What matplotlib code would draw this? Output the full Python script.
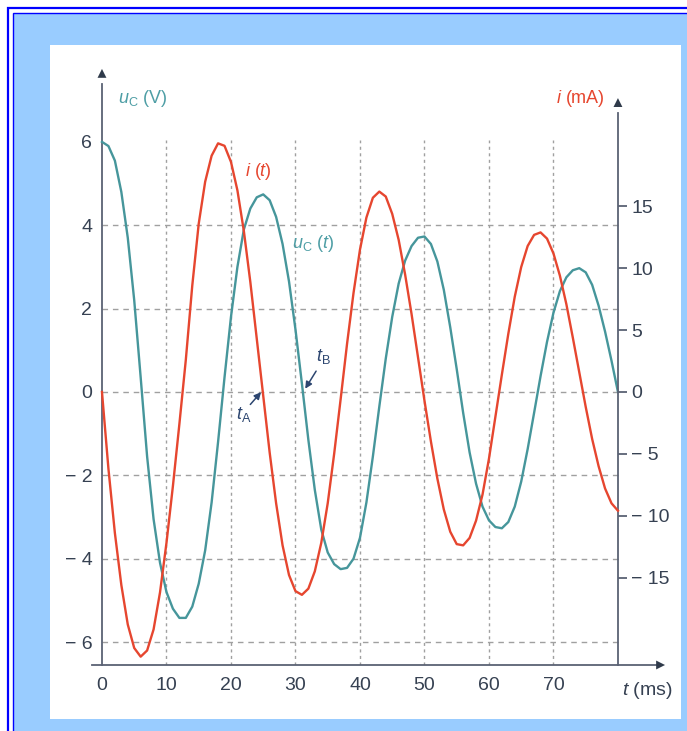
import matplotlib
matplotlib.use("Agg")
import matplotlib.pyplot as plt
from matplotlib.patches import Rectangle

plt.rcParams['font.family'] = ['Liberation Sans', 'DejaVu Sans']
plt.rcParams['mathtext.fontset'] = 'custom'
plt.rcParams['mathtext.rm'] = 'Liberation Sans'
plt.rcParams['mathtext.it'] = 'Liberation Sans:italic'

# t en ms, u_C en V, i en mA
t_ms = list(range(0, 81))
u_c = [6.0, 5.9, 5.55, 4.8, 3.7, 2.2, 0.35, -1.55, -3.05, -4.1,
       -4.8, -5.2, -5.42, -5.42, -5.15, -4.6, -3.8, -2.65, -1.2, 0.35,
       1.8, 3.0, 3.9, 4.4, 4.67, 4.74, 4.6, 4.2, 3.55, 2.65,
       1.5, 0.2, -1.15, -2.35, -3.3, -3.85, -4.13, -4.25, -4.22, -4.0,
       -3.5, -2.65, -1.55, -0.35, 0.8, 1.8, 2.6, 3.15, 3.5, 3.7,
       3.73, 3.55, 3.13, 2.45, 1.55, 0.55, -0.5, -1.45, -2.2, -2.75,
       -3.08, -3.24, -3.27, -3.12, -2.75, -2.15, -1.37, -0.5, 0.38, 1.2,
       1.9, 2.42, 2.75, 2.92, 2.97, 2.87, 2.57, 2.07, 1.45, 0.75,
       0.0]
i_ma = [0.0, -6.2, -11.4, -15.6, -18.8, -20.7, -21.4, -20.9, -19.2, -16.2,
        -12.2, -7.6, -2.6, 2.6, 8.6, 13.6, 17.0, 19.1, 20.1, 19.9,
        18.6, 16.3, 13.0, 8.9, 4.3, -0.3, -4.9, -9.0, -12.4, -14.8,
        -16.1, -16.4, -15.9, -14.5, -12.2, -9.0, -5.0, -0.6, 3.9, 8.0,
        11.5, 14.1, 15.7, 16.2, 15.8, 14.4, 12.3, 9.5, 6.3, 2.8,
        -0.7, -4.0, -7.0, -9.5, -11.3, -12.3, -12.4, -11.8, -10.4, -8.3,
        -5.4, -2.0, 1.4, 4.7, 7.7, 10.1, 11.8, 12.7, 12.9, 12.4,
        11.2, 9.4, 7.1, 4.4, 1.6, -1.2, -3.8, -6.0, -7.8, -9.0,
        -9.6]

x_ticks = [0, 10, 20, 30, 40, 50, 60, 70]
u_ticks = [-6, -4, -2, 0, 2, 4, 6]
u_labels = ['\u2212 6', '\u2212 4', '\u2212 2', '0', '2', '4', '6']
i_ticks = [-15, -10, -5, 0, 5, 10, 15]
i_labels = ['\u2212 15', '\u2212 10', '\u2212 5', '0', '5', '10', '15']

W, H = 687, 731
fig = plt.figure(figsize=(W / 100, H / 100), dpi=100)
fig.patch.set_facecolor('white')


def cadre(x0, y0, x1, y1, **kw):
    # rectangle en pixels (origine en haut a gauche)
    r = Rectangle((x0 / W, 1 - y1 / H), (x1 - x0) / W, (y1 - y0) / H,
                  transform=fig.transFigure, **kw)
    fig.add_artist(r)


cadre(14, 14, 720, 760, facecolor='#99ccff', edgecolor='none', zorder=0)
cadre(8, 8, 720, 760, facecolor='none', edgecolor='#0000ff', lw=1.6, zorder=1)
cadre(13, 13, 720, 760, facecolor='none', edgecolor='#0000ff', lw=1.0, zorder=1)
cadre(50, 45, 681, 719, facecolor='white', edgecolor='none', zorder=1)

k = 3.37  # mA par V
y_bas, y_haut = -6.55, 7.7
ax = fig.add_axes([92.3 / W, 1 - 665 / H, 570.8 / W, 594 / H])
ax.set_zorder(3)
ax.patch.set_alpha(0)
ax.set_xlim(-1.5, 87)
ax.set_ylim(y_bas, y_haut)

ax2 = ax.twinx()
ax2.set_zorder(4)
ax2.patch.set_alpha(0)
ax2.set_ylim(y_bas * k, y_haut * k)

c_axe = '#5a6274'
c_txt = '#364152'
c_teal = '#46969b'
c_red = '#e6462f'
c_grid = '#a0a0a0'

# quadrillage
for v in [-6, -4, -2, 0, 2, 4]:
    ax.plot([0, 80], [v, v], color=c_grid, lw=1.0, dashes=(4, 3.5), zorder=1)
for t in x_ticks[1:]:
    ax.plot([t, t], [y_bas, 6.05], color=c_grid, lw=1.0, dashes=(2.2, 2.5), zorder=1)

# courbes
ax.plot(t_ms, u_c, color=c_teal, lw=1.7, zorder=3, solid_joinstyle='round')
ax2.plot(t_ms, i_ma, color=c_red, lw=1.7, zorder=3, solid_joinstyle='round')

# axes
for a in (ax, ax2):
    for s in a.spines.values():
        s.set_visible(False)
ax.spines['left'].set_visible(True)
ax.spines['left'].set_position(('data', 0))
ax.spines['left'].set_bounds(y_bas, 7.4)
ax.spines['bottom'].set_visible(True)
ax.spines['bottom'].set_position(('data', y_bas))
ax.spines['bottom'].set_bounds(-1.5, 86)
ax2.spines['right'].set_visible(True)
ax2.spines['right'].set_position(('data', 80))
ax2.spines['right'].set_bounds(y_bas * k, 6.7 * k)
for s in (ax.spines['left'], ax.spines['bottom'], ax2.spines['right']):
    s.set_color(c_axe)
    s.set_linewidth(1.3)

fleche = dict(arrowstyle='-|>', color='#2f3a4a', lw=0, mutation_scale=16,
              shrinkA=0, shrinkB=0)
ax.annotate('', xy=(0, 7.75), xytext=(0, 7.2), arrowprops=fleche, annotation_clip=False)
ax.annotate('', xy=(87.3, y_bas), xytext=(85.5, y_bas), arrowprops=fleche, annotation_clip=False)
ax.annotate('', xy=(80, 7.05), xytext=(80, 6.5), arrowprops=fleche, annotation_clip=False)

ax.set_xticks(x_ticks)
ax.set_xticklabels([str(t) for t in x_ticks])
ax.set_yticks(u_ticks)
ax.set_yticklabels(u_labels)
ax.tick_params(axis='both', length=0, labelsize=14, colors=c_txt)
ax.tick_params(axis='x', pad=9)
ax.tick_params(axis='y', pad=7)

ax2.set_yticks(i_ticks)
ax2.set_yticklabels(i_labels)
ax2.tick_params(axis='y', direction='out', length=6.5, width=1.3, color=c_axe,
                labelsize=14, labelcolor=c_txt, pad=3)

# textes
ax.text(2.5, 7.05, r'$u_{\mathrm{C}}$ (V)', color='#4e9ea5', fontsize=13,
        ha='left', va='center')
ax.text(78.0, 7.05, r'$i$ (mA)', color=c_red, fontsize=13, ha='right', va='center')
ax.text(22.2, 5.28, r'$i$ ($t$)', color=c_red, fontsize=13, ha='left', va='center')
ax.text(29.5, 3.56, r'$u_{\mathrm{C}}$ ($t$)', color='#4e9ea5', fontsize=13,
        ha='left', va='center')
ax.text(80.6, -7.15, r'$t$ (ms)', color=c_txt, fontsize=14, ha='left', va='center')

c_nav = '#2d4670'
fl2 = dict(arrowstyle='-|>', color=c_nav, lw=1.1, mutation_scale=10,
           shrinkA=0, shrinkB=1)
ax.annotate('', xy=(24.8, 0.02), xytext=(23.0, -0.3), arrowprops=fl2)
ax.text(21.9, -0.55, r'$t_{\mathrm{A}}$', color=c_nav, fontsize=13,
        ha='center', va='center')
ax.annotate('', xy=(31.4, 0.05), xytext=(33.2, 0.5), arrowprops=fl2)
ax.text(34.4, 0.85, r'$t_{\mathrm{B}}$', color=c_nav, fontsize=13,
        ha='center', va='center')

fig.savefig('out.png', dpi=100)
